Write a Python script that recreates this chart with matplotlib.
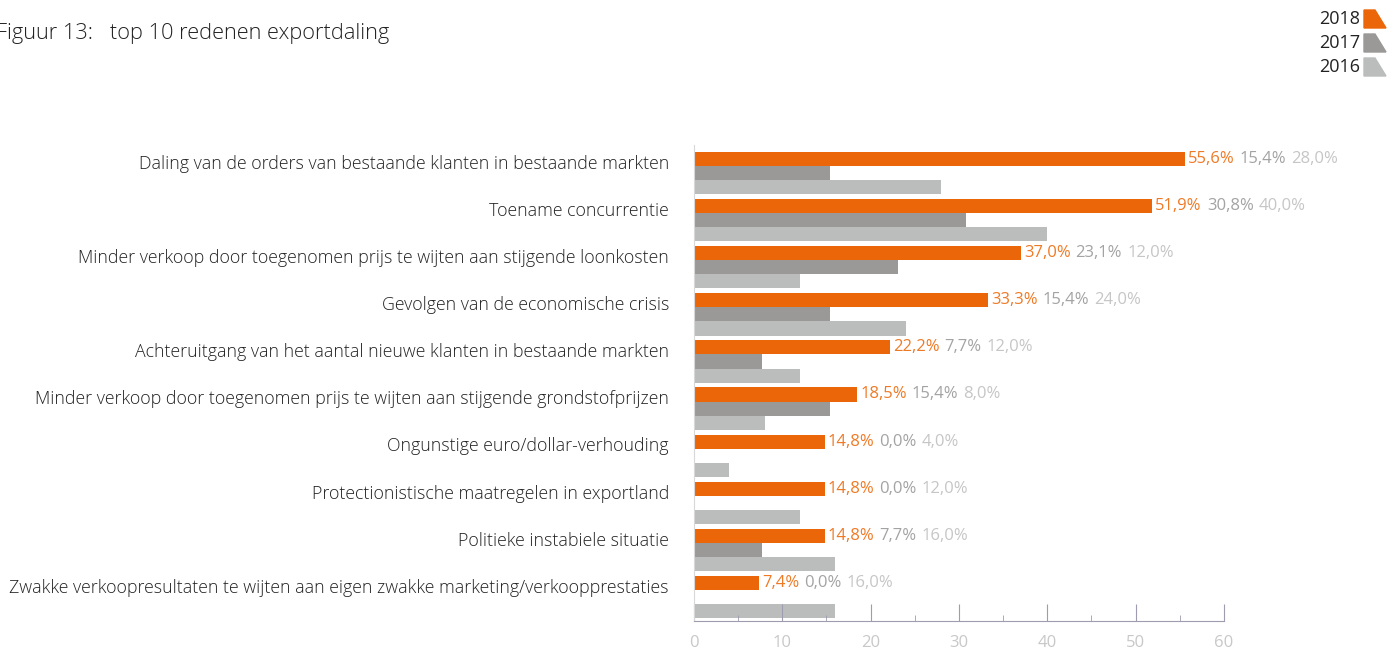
import matplotlib.pyplot as plt
from matplotlib.patches import Polygon
import numpy as np

plt.rcParams['font.family'] = ['Open Sans', 'DejaVu Sans']

categories = [
    'Daling van de orders van bestaande klanten in bestaande markten',
    'Toename concurrentie',
    'Minder verkoop door toegenomen prijs te wijten aan stijgende loonkosten',
    'Gevolgen van de economische crisis',
    'Achteruitgang van het aantal nieuwe klanten in bestaande markten',
    'Minder verkoop door toegenomen prijs te wijten aan stijgende grondstofprijzen',
    'Ongunstige euro/dollar-verhouding',
    'Protectionistische maatregelen in exportland',
    'Politieke instabiele situatie',
    'Zwakke verkoopresultaten te wijten aan eigen zwakke marketing/verkoopprestaties',
]
v2018 = [55.6, 51.9, 37.0, 33.3, 22.2, 18.5, 14.8, 14.8, 14.8, 7.4]
v2017 = [15.4, 30.8, 23.1, 15.4, 7.7, 15.4, 0.0, 0.0, 7.7, 0.0]
v2016 = [28.0, 40.0, 12.0, 24.0, 12.0, 8.0, 4.0, 12.0, 16.0, 16.0]
years = ['2018', '2017', '2016']

c_bar = ['#EB6608', '#9A9997', '#BBBDBD']
c_txt = ['#EF7A26', '#A3A3A3', '#C6C6C6']

fig = plt.figure(figsize=(13.89, 6.49), dpi=100)
ax = fig.add_axes([0.4996, 0.043, 0.3816, 0.734])

y = np.arange(len(categories))
h = 0.3
ax.barh(y - h, v2018, height=h, color=c_bar[0])
ax.barh(y, v2017, height=h, color=c_bar[1])
ax.barh(y + h, v2016, height=h, color=c_bar[2])

ax.set_ylim(len(categories) - 0.49, -0.6)
ax.set_xlim(0, 60)
ax.set_yticks(y - h * 0.8)
ax.set_yticklabels(categories, fontsize=12.8, color='#222222', fontweight='light')
ax.tick_params(axis='y', length=0, pad=18)
ax.set_xticks(np.arange(0, 61, 10))
ax.set_xticks(np.arange(5, 60, 10), minor=True)
ax.tick_params(axis='x', which='major', direction='in', length=12, color='#9E9CAE',
               labelcolor='#C8C8C8', labelsize=12, pad=10)
ax.tick_params(axis='x', which='minor', direction='in', length=4, color='#9E9CAE')
for s in ['top', 'right']:
    ax.spines[s].set_visible(False)
ax.spines['bottom'].set_color('#9E9CAE')
ax.spines['left'].set_color('#D8D8D8')

# value labels after the orange bar
fig.canvas.draw()
r = fig.canvas.get_renderer()
for i in range(len(categories)):
    vals = [v2018[i], v2017[i], v2016[i]]
    x0 = ax.transData.transform((v2018[i], y[i] - h))[0] + 3
    yy = ax.transData.transform((0, y[i] - h))[1]
    for k, v in enumerate(vals):
        t = fig.text(x0 / fig.dpi / fig.get_figwidth(), yy / fig.dpi / fig.get_figheight(),
                     f'{v:.1f}%'.replace('.', ','), color=c_txt[k], fontsize=12,
                     va='center', ha='left')
        bb = t.get_window_extent(r)
        x0 = bb.x1 + 5

fig.text(-0.003, 0.948, 'Figuur 13:   top 10 redenen exportdaling', fontsize=15.7,
         color='#222222', va='center', ha='left', fontweight='light')

# legend
W, H = 1389, 649
for k, (yr, yc) in enumerate(zip(years, [19, 43, 67])):
    fig.text(1360 / W, 1 - yc / H, yr, fontsize=13, color='#222222', ha='right', va='center')
    pts = [(1364, yc - 9), (1375, yc - 9), (1386, yc + 9), (1364, yc + 9)]
    fig.patches.append(Polygon([(px / W, 1 - py / H) for px, py in pts],
                               closed=True, color=c_bar[k], transform=fig.transFigure))

fig.savefig('out.png', dpi=100)
